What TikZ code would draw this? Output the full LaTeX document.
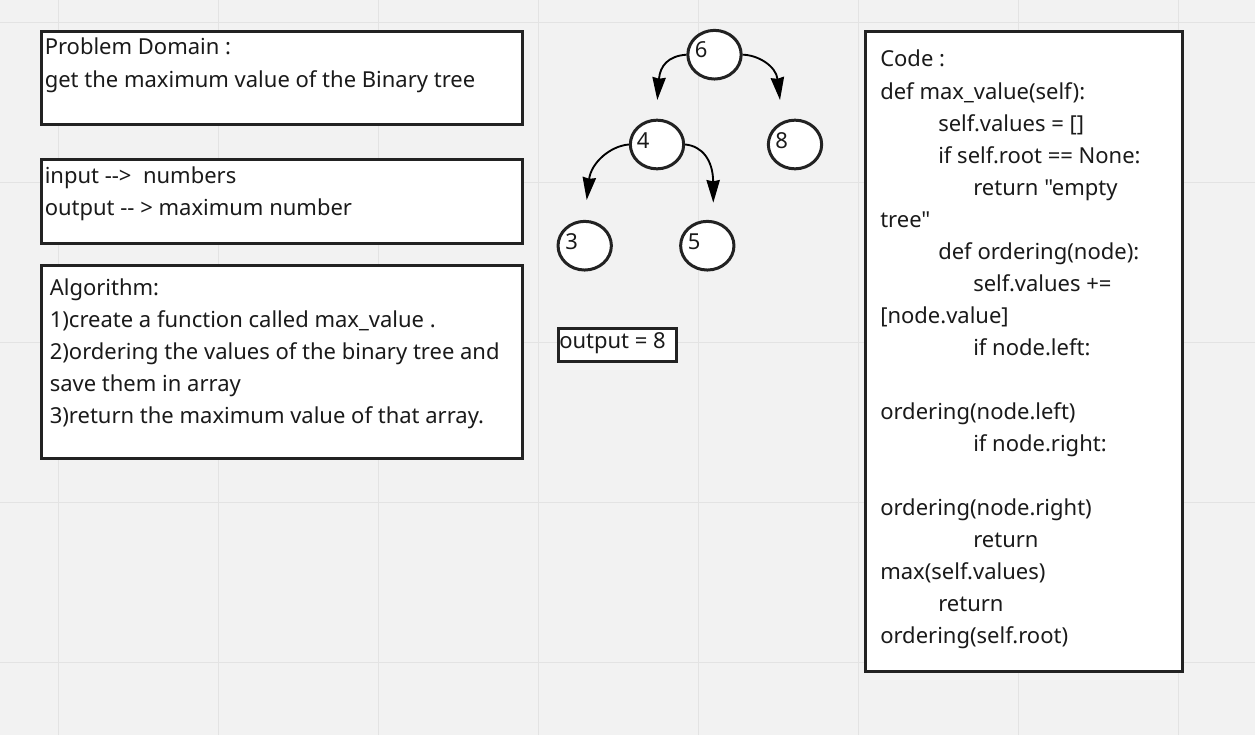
\documentclass[tikz,border=0pt]{standalone}
\usepackage{fontspec}
\setmainfont{Noto Sans}
\newfontfamily\uifont{Noto Sans}
\usetikzlibrary{arrows.meta,shapes.geometric}
\definecolor{bg}{HTML}{F2F2F2}
\definecolor{gridc}{HTML}{E3E3E3}
\definecolor{edge}{HTML}{222222}
\definecolor{ink}{HTML}{1A1A1A}
\tikzset{
 panel/.style={draw=edge, line width=2.25pt, fill=white},
 txt/.style={anchor=base west, inner sep=0pt, text=ink, font=\uifont\fontsize{16.5}{20}\selectfont},
 treenode/.style={ellipse, draw=edge, line width=2.25pt, fill=white, minimum width=40pt, minimum height=36.5pt, inner sep=0pt},
 link/.style={draw=black, line width=1.4pt, -{Stealth[length=17pt,width=10pt,inset=1pt]}},
}
\begin{document}
\begin{tikzpicture}[x=0.75pt,y=-0.75pt]
\useasboundingbox (0,0) rectangle (1255,735);
\fill[bg] (0,0) rectangle (1255,735);
\foreach \gx in {58.5,218.5,378.5,538.5,698.5,858.5,1018.5,1178.5}
  \draw[gridc, line width=1.1pt] (\gx,0) -- (\gx,735);
\foreach \gy in {22.5,182.5,342.5,502.5,662.5}
  \draw[gridc, line width=1.1pt] (0,\gy) -- (1255,\gy);

% left panels
\path[panel] (41.5,31.5) rectangle (522.5,124.5);
\node[txt] (pd1) at (44.5,55) {Problem Domain :};
\node[txt] (pd2) at (44.5,87) {get the maximum value of the Binary tree};

\path[panel] (41.5,159) rectangle (522.5,243.5);
\node[txt] (io1) at (44.5,183) {input -{}->\ \ numbers};
\node[txt] (io2) at (44.5,215) {output -{}- > maximum number};

\path[panel] (41.5,265.5) rectangle (522.5,458);
\node[txt] (al1) at (49.5,295) {Algorithm:};
\node[txt] (al2) at (49.5,327) {1)create a function called max\_value .};
\node[txt] (al3) at (49.5,359) {2)ordering the values of the binary tree and};
\node[txt] (al4) at (49.5,391) {save them in array};
\node[txt] (al5) at (49.5,423) {3)return the maximum value of that array.};

% output box
\path[panel] (558.5,328.5) rectangle (676.5,361.5);
\node[txt] (out) at (559,348) {output = 8};

% tree
\node[treenode] (n6) at (714.5,54.7) {};
\node[treenode] (n4) at (657,144.5) {};
\node[treenode] (n8) at (795,144.5) {};
\node[treenode] (n3) at (584.7,245.7) {};
\node[treenode] (n5) at (707.3,245.7) {};
\node[txt] (t6) at (694.5,58) {6};
\node[txt] (t4) at (636.5,148) {4};
\node[txt] (t8) at (775,148) {8};
\node[txt] (t3) at (565,249) {3};
\node[txt] (t5) at (687.5,249) {5};

\coordinate (a6l) at (657.3,100);
\coordinate (a6r) at (780,100);
\coordinate (a4l) at (586.7,200);
\coordinate (a4r) at (713.3,202.7);
\draw[link] (n6.west) .. controls (668,56) and (660,66) .. (a6l);
\draw[link] (n6.east) .. controls (758,55) and (776,66) .. (a6r);
\draw[link] (n4.west) .. controls (610,146) and (591,163) .. (a4l);
\draw[link] (n4.east) .. controls (702,146) and (713,160) .. (a4r);

% code panel
\path[panel] (865.5,31.5) rectangle (1182.5,671.5);
\foreach \i/\cx/\ct in {0/880/{Code :},
  1/880/{def max\_value(self):},
  2/938/{self.values = []},
  3/938/{if self.root == None:},
  4/973/{return "empty},
  5/880/{tree"},
  6/938/{def ordering(node):},
  7/973/{self.values +=},
  8/880/{[node.value]},
  9/973/{if node.left:},
  11/880/{ordering(node.left)},
  12/973/{if node.right:},
  14/880/{ordering(node.right)},
  15/973/{return},
  16/880/{max(self.values)},
  17/938/{return},
  18/880/{ordering(self.root)}}
  \node[txt] (code\i) at (\cx,67+32*\i) {\ct};
\end{tikzpicture}
\end{document}
